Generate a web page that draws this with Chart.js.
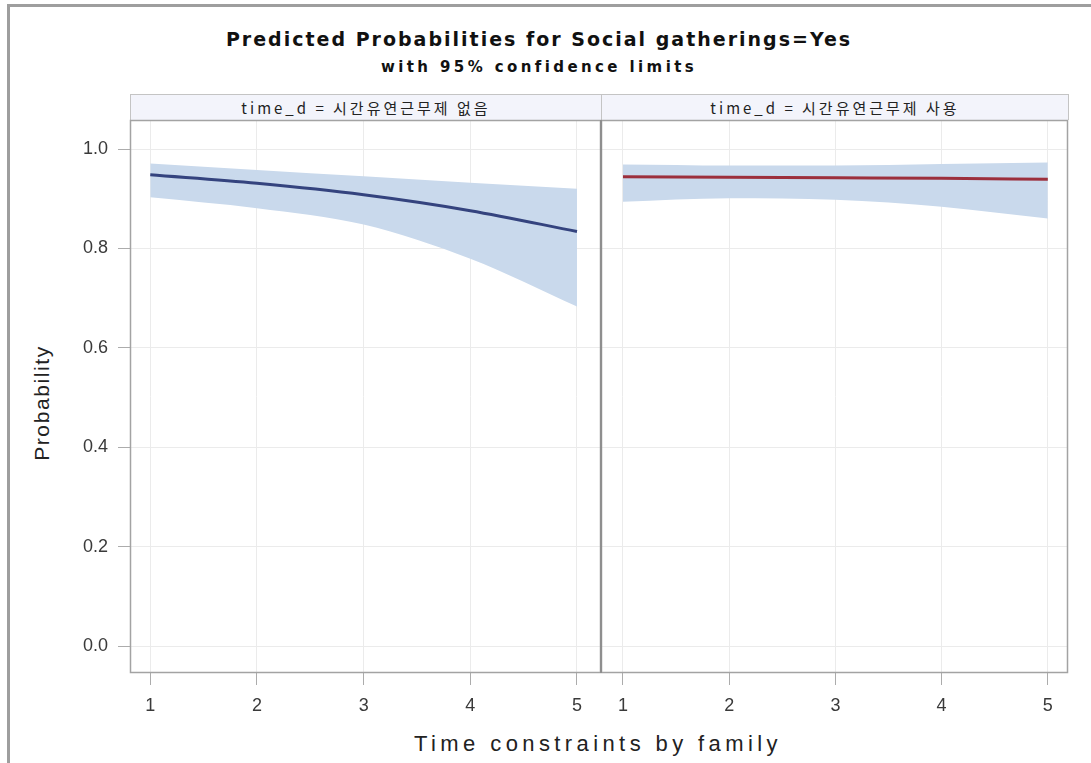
<!DOCTYPE html>
<html>
<head>
<meta charset="utf-8">
<script src="https://cdn.jsdelivr.net/npm/chart.js@4.4.1/dist/chart.umd.min.js"></script>
<style>
  body { margin: 0; width: 1091px; height: 763px; overflow: hidden; background: #fff; position: relative;
         font-family: 'Liberation Sans', Arial, sans-serif; color: #111; }
  #frame { position: absolute; left: 7px; top: 4px; width: 1200px; height: 900px;
           border-left: 3px solid #9e9e9e; border-top: 3px solid #9e9e9e; }
  #title { position: absolute; left: 0; width: 1078px; top: 30px; text-align: center;
           font-family: 'DejaVu Sans', sans-serif; font-size: 19px; line-height: 19px; font-weight: bold; letter-spacing: 2px; }
  #subtitle { position: absolute; left: 0; width: 1078px; top: 60px; text-align: center;
              font-family: 'DejaVu Sans', sans-serif; font-size: 15px; line-height: 15px; font-weight: bold; letter-spacing: 3.4px; }
  .hdr { position: absolute; top: 94px; height: 26px; background: #f3f4fb; box-sizing: border-box;
         border-top: 1px solid #c4c4c4; border-left: 1px solid #c4c4c4; border-right: 1px solid #c4c4c4;
         display: flex; align-items: center; justify-content: center;
         font-family: 'Noto Sans CJK KR', sans-serif; font-size: 15px; color: #222; letter-spacing: 3px; }
  #hdr-left { left: 130px; width: 472px; }
  #hdr-right { left: 601px; width: 468px; }
  #ytitle { position: absolute; left: -58px; top: 391px; width: 200px; height: 24px; line-height: 24px;
            text-align: center; transform: rotate(-90deg); font-size: 21px; letter-spacing: 1.6px; color: #222; }
  #xtitle { position: absolute; left: 0; width: 1196px; top: 733px; text-align: center;
            font-size: 22px; line-height: 22px; letter-spacing: 4.4px; color: #222; }
  .wrap { position: absolute; top: 0; height: 763px; }
  #wrap-left { left: 0; width: 601px; }
  #wrap-right { left: 601px; width: 490px; }
  #divider { position: absolute; left: 600px; top: 120px; width: 2px; height: 553px; background: #8e8e8e; }
</style>
</head>
<body>
<div id="frame"></div>
<div id="title">Predicted Probabilities for Social gatherings=Yes</div>
<div id="subtitle">with 95% confidence limits</div>
<div class="hdr" id="hdr-left"></div>
<div class="hdr" id="hdr-right"></div>
<div id="ytitle">Probability</div>
<div id="xtitle">Time constraints by family</div>
<div class="wrap" id="wrap-left"><canvas id="chart-left"></canvas></div>
<div class="wrap" id="wrap-right"><canvas id="chart-right"></canvas></div>
<div id="divider"></div>
<script>
// panel labels
const panelLabels = ['time_d = 시간유연근무제 없음', 'time_d = 시간유연근무제 사용'];

// x values (time constraints by family) and axis ticks
const xLevels = [1, 2, 3, 4, 5];
const yTicks = [0, 0.2, 0.4, 0.6, 0.8, 1.0];

// panel 1: 없음
const predNone = [0.948, 0.931, 0.908, 0.876, 0.834];
const upperNone = [0.971, 0.958, 0.945, 0.932, 0.920];
const lowerNone = [0.903, 0.881, 0.848, 0.779, 0.683];

// panel 2: 사용
const predUse = [0.944, 0.943, 0.942, 0.941, 0.939];
const upperUse = [0.969, 0.967, 0.967, 0.970, 0.973];
const lowerUse = [0.894, 0.901, 0.898, 0.884, 0.860];

document.getElementById('hdr-left').textContent = panelLabels[0];
document.getElementById('hdr-right').textContent = panelLabels[1];

const bandColor = '#c9d9ec';
const gridColor = '#ebebeb';
const tickMarkColor = '#acacac';
const tickFont = { family: "'Liberation Sans', Arial, sans-serif", size: 18 };

const toPoints = arr => arr.map((v, i) => ({ x: xLevels[i], y: v }));

// box around each plot area
const plotFrame = {
    id: 'plotFrame',
    afterDraw(chart) {
        const { ctx, chartArea: a } = chart;
        ctx.save();
        ctx.strokeStyle = '#a3a3a3';
        ctx.lineWidth = 1.5;
        ctx.strokeRect(a.left + 0.5, a.top + 0.5, a.width - 1, a.height - 1);
        ctx.restore();
    }
};

function makePanel(canvasId, pred, lower, upper, lineColor, xMin, xMax, showY, padRight) {
    const ctx = document.getElementById(canvasId).getContext('2d');
    return new Chart(ctx, {
        type: 'line',
        data: {
            datasets: [
                {
                    label: 'Predicted',
                    data: toPoints(pred),
                    borderColor: lineColor,
                    borderWidth: 3,
                    pointRadius: 0,
                    cubicInterpolationMode: 'monotone',
                    fill: false,
                    order: 0
                },
                {
                    label: 'Lower',
                    data: toPoints(lower),
                    borderWidth: 0,
                    borderColor: 'rgba(0,0,0,0)',
                    pointRadius: 0,
                    cubicInterpolationMode: 'monotone',
                    fill: false,
                    order: 1
                },
                {
                    label: 'Upper',
                    data: toPoints(upper),
                    borderWidth: 0,
                    borderColor: 'rgba(0,0,0,0)',
                    backgroundColor: bandColor,
                    pointRadius: 0,
                    cubicInterpolationMode: 'monotone',
                    fill: 1,
                    order: 2
                }
            ]
        },
        options: {
            responsive: true,
            maintainAspectRatio: false,
            animation: false,
            layout: { padding: { top: 120, left: 0, right: padRight, bottom: 0 } },
            plugins: {
                legend: { display: false },
                tooltip: { enabled: false }
            },
            scales: {
                x: {
                    type: 'linear',
                    min: xMin,
                    max: xMax,
                    afterBuildTicks: s => { s.ticks = xLevels.map(v => ({ value: v })); },
                    afterFit: s => { s.height = 90; },
                    ticks: { font: tickFont, color: '#3a3a3a', padding: 10, maxRotation: 0 },
                    grid: { color: gridColor, tickColor: tickMarkColor, tickLength: 12 },
                    border: { display: false }
                },
                y: {
                    min: -0.0543,
                    max: 1.0584,
                    afterBuildTicks: s => { s.ticks = yTicks.map(v => ({ value: v })); },
                    afterFit: s => { s.width = showY ? 130 : 0; },
                    ticks: {
                        display: showY,
                        font: tickFont,
                        color: '#3a3a3a',
                        padding: 10,
                        callback: v => v.toFixed(1)
                    },
                    grid: { color: gridColor, tickColor: tickMarkColor, tickLength: 12, drawTicks: showY },
                    border: { display: false }
                }
            }
        },
        plugins: [plotFrame]
    });
}

makePanel('chart-left', predNone, lowerNone, upperNone, '#34437e', 0.81, 5.225, true, 0);
makePanel('chart-right', predUse, lowerUse, upperUse, '#9c2f3c', 0.793, 5.19, false, 23);
</script>
</body>
</html>
